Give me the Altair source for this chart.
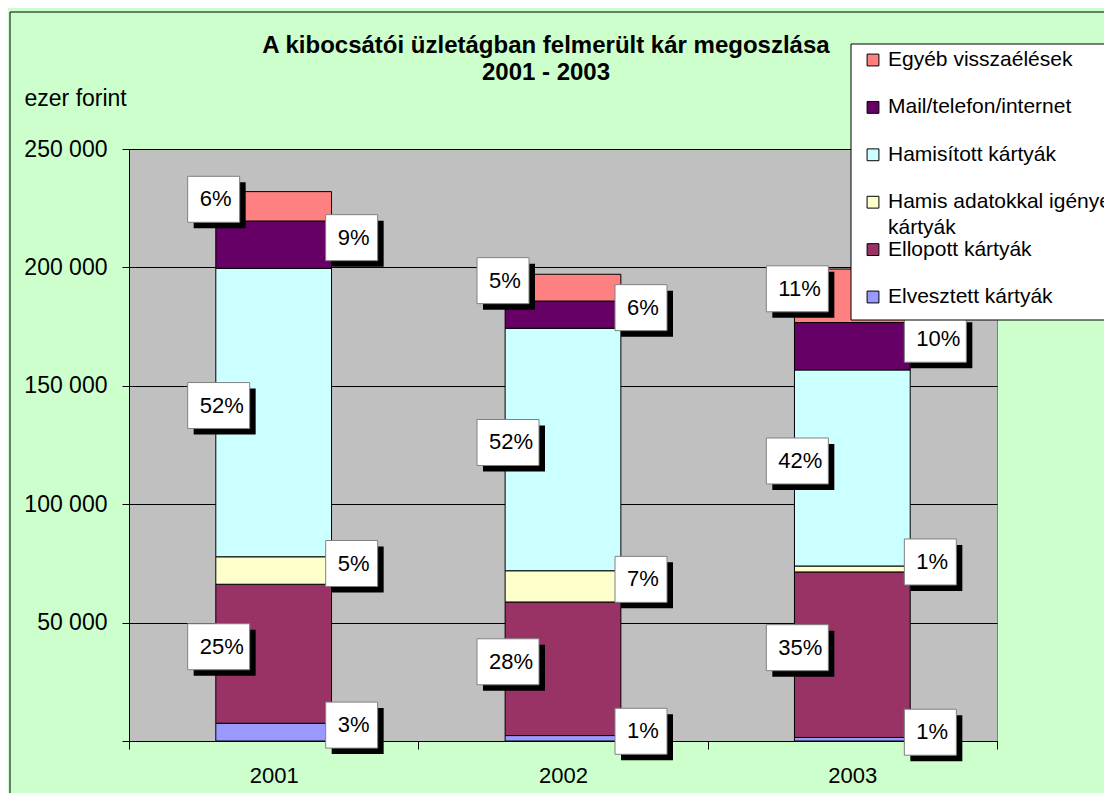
import altair as alt
import pandas as pd

# ---------------- data ----------------
years = ["2001", "2002", "2003"]
categories = [  # bottom -> top of each stack
    "Elvesztett kártyák",
    "Ellopott kártyák",
    "Hamis adatokkal igényelt kártyák",
    "Hamisított kártyák",
    "Mail/telefon/internet",
    "Egyéb visszaélések",
]
colors = ["#9999FF", "#993366", "#FFFFCC", "#CCFFFF", "#660066", "#FF8080"]

values_2001 = [7500, 58700, 11600, 121800, 20000, 12400]
values_2002 = [2300, 56400, 13200, 102400, 11500, 11300]
values_2003 = [1500, 69900, 2500, 82800, 20000, 22600]

pct_2001 = ["3%", "25%", "5%", "52%", "9%", "6%"]
pct_2002 = ["1%", "28%", "7%", "52%", "6%", "5%"]
pct_2003 = ["1%", "35%", "1%", "42%", "10%", "11%"]

y_ticks = [0, 50000, 100000, 150000, 200000, 250000]
title_lines = ["A kibocsátói üzletágban felmerült kár megoszlása", "2001 - 2003"]
y_title = "ezer forint"

# label placement (style): which side of the bar the label box sits on
label_side = {
    "Elvesztett kártyák": "right",
    "Ellopott kártyák": "left",
    "Hamis adatokkal igényelt kártyák": "right",
    "Hamisított kártyák": "left",
    "Mail/telefon/internet": "right",
    "Egyéb visszaélések": "left",
}

# ---------------- tables ----------------
rows = []
for yr, vals, pcts in zip(years, [values_2001, values_2002, values_2003],
                          [pct_2001, pct_2002, pct_2003]):
    for i, (cat, v, p) in enumerate(zip(categories, vals, pcts)):
        rows.append({"year": yr, "cat": cat, "idx": i, "value": v,
                     "label": p, "side": label_side[cat]})
df = pd.DataFrame(rows)

leg_order = list(reversed(range(len(categories))))
legend_df = pd.DataFrame({
    "row": list(range(len(categories))),
    "name": [categories[i].replace("igényelt ", "igényelt\n") for i in leg_order],
    "color": [colors[i] for i in leg_order],
})

FONT = "Liberation Sans"
W, H = 868, 592

y_scale = alt.Scale(domain=[0, 250000], nice=False, zero=True)
x_scale = alt.Scale(domain=years, paddingInner=0, paddingOuter=0)

y_axis = alt.Axis(
    values=y_ticks,
    labelExpr="datum.value == 0 ? '' : replace(format(datum.value, ','), regexp(',', 'g'), ' ')",
    title=y_title, titleAngle=0, titleX=-105, titleY=-44, titleAlign="left",
    titleBaseline="alphabetic", titleFontWeight="normal", titleFontSize=23,
    titleFont=FONT, titleColor="black",
    labelFontSize=23, labelFont=FONT, labelColor="black", labelPadding=15,
    tickSize=7, tickColor="black", domainColor="black",
    grid=True, gridColor="black", gridWidth=1,
)
x_axis = alt.Axis(
    title=None, labelAngle=0, tickBand="extent", tickSize=8, labelPadding=16,
    labelFontSize=22, labelFont=FONT, labelColor="black",
    tickColor="black", domainColor="black", grid=False,
)

base = alt.Chart(df)

bars = base.mark_bar(stroke="black", strokeWidth=1, width=alt.RelativeBandSize(0.4)).encode(
    x=alt.X("year:N", scale=x_scale, axis=x_axis, sort=years),
    y=alt.Y("value:Q", stack="zero", scale=y_scale, axis=y_axis),
    color=alt.Color("cat:N", scale=alt.Scale(domain=categories, range=colors), legend=None),
    order=alt.Order("idx:Q", sort="ascending"),
)

stacked = base.transform_stack(
    stack="value", groupby=["year"], as_=["y0", "y1"],
    sort=[alt.SortField("idx", order="ascending")],
).transform_calculate(
    mid="(datum.y0 + datum.y1) / 2",
    bx0="datum.side == 'left' ? -86 : 52",
    bw="length(datum.label) > 2 ? 62 : 52",
).transform_calculate(
    box="'M' + (datum.bx0/100) + ',-0.30H' + ((datum.bx0 + datum.bw)/100) + 'V0.16H' + (datum.bx0/100) + 'Z'",
    shadow="'M' + ((datum.bx0 + 6)/100) + ',-0.24H' + ((datum.bx0 + datum.bw + 6)/100) + 'V0.22H' + ((datum.bx0 + 6)/100) + 'Z'",
)

enc_xy = dict(
    x=alt.X("year:N", scale=x_scale, axis=x_axis, sort=years),
    y=alt.Y("mid:Q", scale=y_scale, axis=y_axis),
)

shadows = stacked.mark_point(filled=True, fill="black", stroke="black", strokeWidth=0,
                             opacity=1, fillOpacity=1, size=40000).encode(
    shape=alt.Shape("shadow:N", scale=None), **enc_xy)
boxes = stacked.mark_point(filled=True, fill="white", stroke="#808080", strokeWidth=1,
                           opacity=1, fillOpacity=1, size=40000).encode(
    shape=alt.Shape("box:N", scale=None), **enc_xy)
text_left = stacked.transform_filter("datum.side == 'left'").mark_text(
    align="left", baseline="middle", dx=-74, dy=-7, fontSize=22, font=FONT, color="black"
).encode(text="label:N", **enc_xy)
text_right = stacked.transform_filter("datum.side == 'right'").mark_text(
    align="left", baseline="middle", dx=64, dy=-7, fontSize=22, font=FONT, color="black"
).encode(text="label:N", **enc_xy)

one = pd.DataFrame({"t": ["\n".join(title_lines)]})

frame = alt.Chart(one).mark_rect(fillOpacity=0, stroke="black", strokeWidth=1).encode(
    x=alt.value(-119), x2=alt.value(1200), y=alt.value(-137), y2=alt.value(900))

main = alt.layer(frame, bars, shadows, boxes, text_left, text_right)

leg_y = alt.Y("row:Q", scale=alt.Scale(domain=[0, 5], range=[-89, 148]), axis=None)
leg_box = alt.Chart(one).mark_rect(fill="white", stroke="black", strokeWidth=1).encode(
    x=alt.value(722), x2=alt.value(1100), y=alt.value(-105), y2=alt.value(171))
leg_sq = alt.Chart(legend_df).mark_square(size=140, filled=True, stroke="black",
                                          strokeWidth=1, opacity=1).encode(
    x=alt.value(744), y=leg_y, fill=alt.Fill("color:N", scale=None))
leg_txt = alt.Chart(legend_df).mark_text(
    align="left", baseline="alphabetic", dy=6, fontSize=21, font=FONT, color="black",
    lineBreak="\n", lineHeight=26,
).encode(x=alt.value(759), y=leg_y, text="name:N")
legend = alt.layer(leg_box, leg_sq, leg_txt)

title = alt.Chart(one).mark_text(
    align="center", baseline="alphabetic", fontSize=24, fontWeight="bold", font=FONT,
    color="black", lineBreak="\n", lineHeight=27,
).encode(x=alt.value(417), y=alt.value(-96), text="t:N")

chart = alt.layer(main, legend, title).resolve_scale(
    y="independent", x="independent"
).properties(
    width=W, height=H,
    autosize=alt.AutoSizeParams(type="none"),
    padding={"left": 121, "top": 141, "right": 1096 - 121 - W, "bottom": 785 - 141 - H},
    background="#CCFFCC",
).configure(font=FONT).configure_view(fill="#C0C0C0", stroke="#808080", strokeWidth=1)

chart.save("out.html", embed_options={"renderer": "svg", "actions": False})
